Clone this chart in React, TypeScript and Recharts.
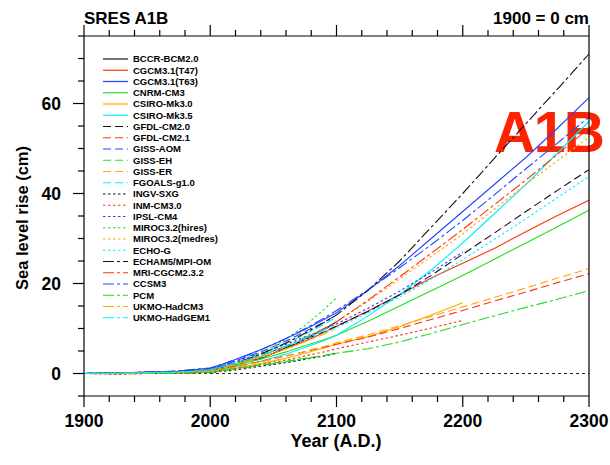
import React from "react";
import { LineChart, Line, XAxis, YAxis, ReferenceLine, Customized } from "recharts";

// Sample years shared by every model run
const YEARS = [1900, 1925, 1950, 1975, 2000, 2010, 2020, 2030, 2040, 2050, 2060, 2070, 2080, 2090, 2100, 2125, 2150, 2175, 2200, 2225, 2250, 2275, 2300];

const MODELS = [
  "BCCR-BCM2.0", "CGCM3.1(T47)", "CGCM3.1(T63)", "CNRM-CM3", "CSIRO-Mk3.0", "CSIRO-Mk3.5",
  "GFDL-CM2.0", "GFDL-CM2.1", "GISS-AOM", "GISS-EH", "GISS-ER", "FGOALS-g1.0",
  "INGV-SXG", "INM-CM3.0", "IPSL-CM4", "MIROC3.2(hires)", "MIROC3.2(medres)", "ECHO-G",
  "ECHAM5/MPI-OM", "MRI-CGCM2.3.2", "CCSM3", "PCM", "UKMO-HadCM3", "UKMO-HadGEM1",
];

// Sea level rise (cm) relative to 1900; null where a run has ended
const _ = null;
const BCCR = [0, 0.1, 0.2, 0.3, 0.6, 1.1, 1.8, 2.6, 3.4, 4.5, 5.7, 6.9, 8.4, 9.8, 11.5, _, _, _, _, _, _, _, _];
const CGCM_T47 = [0, 0.0, 0.2, 0.4, 0.8, 1.4, 2.0, 2.7, 3.6, 4.5, 5.5, 6.6, 7.8, 9.1, 10.5, 13.9, 17.5, 21.2, 24.5, 27.8, 31.5, 35.1, 38.5];
const CGCM_T63 = [0, 0.1, 0.3, 0.5, 1.2, 2.1, 3.1, 4.2, 5.3, 6.5, 7.8, 9.1, 10.5, 12.0, 13.5, 18.5, 24.0, 30.0, 36.0, 42.0, 48.0, 54.5, 61.3];
const CNRM = [0, 0.0, 0.1, 0.2, 0.6, 1.2, 1.8, 2.5, 3.2, 4.0, 4.8, 5.7, 6.6, 7.5, 8.5, 11.6, 15.0, 18.4, 21.8, 25.4, 29.0, 32.6, 36.3];
const CSIRO_30 = [0, -0.1, 0.0, 0.1, 0.3, 0.7, 1.2, 1.7, 2.2, 2.8, 3.4, 4.1, 4.9, 5.7, 6.5, 8.2, 10.4, 13.0, 15.7, _, _, _, _];
const CSIRO_35 = [0, 0.0, 0.1, 0.2, 0.5, 0.9, 1.5, 2.1, 2.7, 3.5, 4.3, 5.3, 6.3, 7.3, 8.5, 12.8, 17.5, 23.0, 29.0, 35.5, 42.0, 49.0, 56.0];
const GFDL_20 = [0, 0.1, 0.2, 0.4, 0.8, 1.5, 2.3, 3.2, 4.1, 5.0, 6.0, 7.0, 8.1, 9.3, 10.5, 13.8, 17.5, 21.8, 26.5, 31.2, 36.0, 40.7, 45.3];
const GFDL_21 = [0, 0.0, 0.1, 0.2, 0.4, 1.0, 1.5, 2.1, 2.7, 3.3, 3.9, 4.5, 5.2, 5.8, 6.5, 8.1, 10.0, 12.0, 14.0, 16.1, 18.1, 20.2, 22.2];
const GISS_AOM = [0, 0.1, 0.3, 0.5, 1.0, 1.8, 2.8, 3.8, 4.8, 6.0, 7.2, 8.6, 10.0, 11.4, 13.0, _, _, _, _, _, _, _, _];
const GISS_EH = [0, 0.0, 0.0, 0.1, 0.3, 0.7, 1.1, 1.5, 1.9, 2.3, 2.7, 3.2, 3.6, 4.0, 4.5, _, _, _, _, _, _, _, _];
const GISS_ER = [0, 0.0, 0.1, 0.2, 0.4, 0.9, 1.4, 2.0, 2.6, 3.2, 3.9, 4.5, 5.3, 6.0, 6.8, 8.6, 10.6, 12.7, 14.8, 16.9, 19.0, 21.2, 23.3];
const FGOALS = [0, 0.1, 0.2, 0.4, 0.8, 1.6, 2.4, 3.3, 4.4, 5.5, 6.7, 8.0, 9.4, 10.9, 12.5, _, _, _, _, _, _, _, _];
const INGV = [0, -0.1, 0.0, 0.1, 0.2, 0.5, 0.8, 1.2, 1.6, 2.0, 2.4, 2.9, 3.4, 3.9, 4.5, _, _, _, _, _, _, _, _];
const INM = [0, 0.0, 0.1, 0.1, 0.3, 0.7, 1.1, 1.5, 2.0, 2.5, 3.0, 3.6, 4.2, 4.8, 5.5, 7.0, 8.5, 10.1, 11.8, _, _, _, _];
const IPSL = [0, 0.1, 0.3, 0.5, 1.0, 1.8, 2.7, 3.6, 4.5, 5.5, 6.5, 7.6, 8.7, 9.8, 11.0, 14.5, 18.3, 22.5, 27.0, _, _, _, _];
const MIROC_HI = [0, 0.1, 0.2, 0.4, 1.0, 1.5, 2.3, 3.3, 4.5, 6.0, 7.7, 9.6, 11.8, 14.2, 16.8, _, _, _, _, _, _, _, _];
const MIROC_MED = [0, 0.1, 0.2, 0.4, 0.8, 1.5, 2.2, 3.0, 4.0, 5.0, 6.1, 7.3, 8.6, 10.0, 11.5, 16.0, 21.0, 26.0, 31.0, 36.5, 42.0, 47.3, 52.5];
const ECHO_G = [0, 0.0, 0.2, 0.3, 0.8, 1.5, 2.3, 3.2, 4.0, 5.0, 6.0, 7.0, 8.1, 9.2, 10.2, 13.5, 17.0, 21.0, 25.3, 29.8, 34.4, 39.1, 43.8];
const ECHAM5 = [0, 0.1, 0.2, 0.4, 0.8, 1.5, 2.3, 3.3, 4.3, 5.5, 6.8, 8.2, 9.7, 11.3, 13.0, 18.5, 25.0, 32.5, 40.0, 47.8, 55.5, 63.2, 71.0];
const MRI = [0, 0.0, 0.1, 0.3, 0.7, 1.4, 2.2, 3.0, 4.0, 5.0, 6.1, 7.3, 8.6, 10.0, 11.5, 16.3, 21.5, 26.7, 32.0, 37.5, 43.0, 48.7, 54.5];
const CCSM3 = [0, 0.1, 0.3, 0.6, 1.2, 2.1, 3.1, 4.1, 5.3, 6.5, 7.8, 9.2, 10.7, 12.3, 14.0, 18.6, 23.5, 28.6, 34.0, 39.7, 45.5, 51.2, 57.0];
const PCM = [0, 0.0, 0.0, 0.1, 0.2, 0.6, 1.0, 1.4, 1.8, 2.2, 2.6, 3.1, 3.5, 4.0, 4.5, 5.5, 7.0, 8.9, 10.9, 12.8, 14.7, 16.5, 18.4];
const HADCM3 = [0, 0.0, 0.1, 0.3, 0.6, 1.2, 2.0, 2.7, 3.6, 4.5, 5.5, 6.5, 7.6, 8.8, 10.0, _, _, _, _, _, _, _, _];
const HADGEM1 = [0, 0.1, 0.2, 0.3, 0.8, 1.5, 2.3, 3.1, 4.0, 5.0, 6.1, 7.2, 8.4, 9.7, 11.0, _, _, _, _, _, _, _, _];

const SERIES = [
  BCCR, CGCM_T47, CGCM_T63, CNRM, CSIRO_30, CSIRO_35,
  GFDL_20, GFDL_21, GISS_AOM, GISS_EH, GISS_ER, FGOALS,
  INGV, INM, IPSL, MIROC_HI, MIROC_MED, ECHO_G,
  ECHAM5, MRI, CCSM3, PCM, HADCM3, HADGEM1,
];

const X_TICKS = [1900, 1920, 1940, 1960, 1980, 2000, 2020, 2040, 2060, 2080, 2100, 2120, 2140, 2160, 2180, 2200, 2220, 2240, 2260, 2280, 2300];
const Y_TICKS = [-5, 0, 5, 10, 15, 20, 25, 30, 35, 40, 45, 50, 55, 60, 65, 70, 75];

// Line styling: colour cycles within each group of six, dash pattern per group
const PALETTE = ["#111111", "#ff3311", "#2244ff", "#22dd22", "#ffaa00", "#00eeff"];
const DASHES = [undefined, "8 4", "2.5 2.5", "11 3 3 3"];
const colorOf = (i: number) => PALETTE[i % 6];
const dashOf = (i: number) => DASHES[Math.floor(i / 6)];

const FONT = "'Liberation Sans', Arial, Helvetica, sans-serif";

const rows = YEARS.map((year, j) => {
  const row: Record<string, number | null> = { year };
  SERIES.forEach((s, i) => {
    row[`m${i}`] = s[j];
  });
  return row;
});

const isMajorX = (v: number) => v % 100 === 0;
const isMajorY = (v: number) => v % 20 === 0;

function BottomTick(props: any) {
  const { x, y, payload } = props;
  const major = isMajorX(payload.value);
  return (
    <g>
      <line x1={x} y1={y} x2={x} y2={y + (major ? 11 : 6)} stroke="#000" strokeWidth={1.2} />
      {major && (
        <text x={x} y={y + 31} textAnchor="middle" fontSize={17.5} fontWeight="bold" fontFamily={FONT} fill="#000">
          {payload.value}
        </text>
      )}
    </g>
  );
}

function TopTick(props: any) {
  const { x, y, payload } = props;
  const major = isMajorX(payload.value);
  return <line x1={x} y1={y} x2={x} y2={y - (major ? 11 : 6)} stroke="#000" strokeWidth={1.2} />;
}

function LeftTick(props: any) {
  const { x, y, payload } = props;
  const major = isMajorY(payload.value);
  return (
    <g>
      <line x1={x} y1={y} x2={x - (major ? 11 : 6)} y2={y} stroke="#000" strokeWidth={1.2} />
      {major && (
        <text x={x - 23} y={y + 6.3} textAnchor="end" fontSize={17.5} fontWeight="bold" fontFamily={FONT} fill="#000">
          {payload.value}
        </text>
      )}
    </g>
  );
}

function RightTick(props: any) {
  const { x, y, payload } = props;
  const major = isMajorY(payload.value);
  return <line x1={x} y1={y} x2={x + (major ? 11 : 6)} y2={y} stroke="#000" strokeWidth={1.2} />;
}

function Overlay() {
  return (
    <g fontFamily={FONT}>
      <text x={84} y={24} fontSize={17} fontWeight="bold" fill="#000">SRES A1B</text>
      <text x={589} y={24} fontSize={17} fontWeight="bold" fill="#000" textAnchor="end">1900 = 0 cm</text>
      <text x={336} y={447} fontSize={18} fontWeight="bold" fill="#000" textAnchor="middle">Year (A.D.)</text>
      <text transform="translate(28,218) rotate(-90)" fontSize={16.5} fontWeight="bold" fill="#000" textAnchor="middle">
        Sea level rise (cm)
      </text>
      <text x={494} y={152} fontSize={57} fontWeight="bold" fill="#ff2200" letterSpacing={-1.5}>A1B</text>
      {MODELS.map((name, i) => {
        const cy = 59 + i * 11.25;
        return (
          <g key={name}>
            <line x1={103} y1={cy} x2={128} y2={cy} stroke={colorOf(i)} strokeWidth={1.2} strokeDasharray={dashOf(i)} />
            <text x={133} y={cy + 3.4} fontSize={9.5} fontWeight="bold" fill="#000">{name}</text>
          </g>
        );
      })}
    </g>
  );
}

export default function App() {
  return (
    <div style={{ position: "absolute", left: 0, top: 0, width: 610, height: 465, background: "#fff" }}>
      <LineChart width={610} height={465} data={rows} margin={{ top: 26, right: 11, bottom: 39, left: 44 }}>
        <XAxis
          xAxisId="b"
          dataKey="year"
          type="number"
          domain={[1900, 2300]}
          ticks={X_TICKS}
          interval={0}
          height={30}
          tickSize={0}
          tickMargin={0}
          tickLine={false}
          tick={<BottomTick />}
          axisLine={{ stroke: "#000", strokeWidth: 1.2 }}
        />
        <XAxis
          xAxisId="t"
          orientation="top"
          dataKey="year"
          type="number"
          domain={[1900, 2300]}
          ticks={X_TICKS}
          interval={0}
          height={10}
          tickSize={0}
          tickMargin={0}
          tickLine={false}
          tick={<TopTick />}
          axisLine={{ stroke: "#000", strokeWidth: 1.2 }}
        />
        <YAxis
          yAxisId="l"
          type="number"
          domain={[-5, 75]}
          ticks={Y_TICKS}
          interval={0}
          width={40}
          tickSize={0}
          tickMargin={0}
          tickLine={false}
          tick={<LeftTick />}
          axisLine={{ stroke: "#000", strokeWidth: 1.2 }}
        />
        <YAxis
          yAxisId="r"
          orientation="right"
          type="number"
          domain={[-5, 75]}
          ticks={Y_TICKS}
          interval={0}
          width={10}
          tickSize={0}
          tickMargin={0}
          tickLine={false}
          tick={<RightTick />}
          axisLine={{ stroke: "#000", strokeWidth: 1.2 }}
        />
        <ReferenceLine xAxisId="b" yAxisId="l" y={0} stroke="#222" strokeWidth={1} strokeDasharray="3 3" />
        {MODELS.map((name, i) => (
          <Line
            key={name}
            xAxisId="b"
            yAxisId="l"
            dataKey={`m${i}`}
            name={name}
            stroke={colorOf(i)}
            strokeWidth={1.1}
            strokeDasharray={dashOf(i)}
            dot={false}
            activeDot={false}
            connectNulls={false}
            isAnimationActive={false}
          />
        ))}
        <Customized component={<Overlay />} />
      </LineChart>
    </div>
  );
}
